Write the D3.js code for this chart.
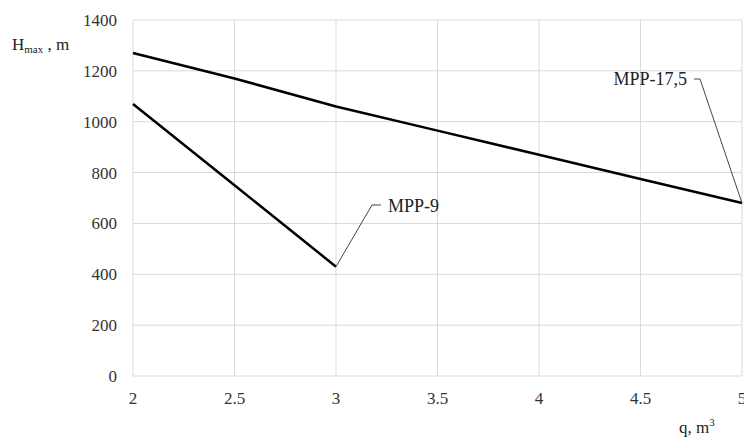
<!DOCTYPE html>
<html><head><meta charset="utf-8">
<script src="https://cdn.jsdelivr.net/npm/d3@7"></script>
<style>body{margin:0;background:#fff}svg{display:block}
text{font-family:"Liberation Serif",serif;font-size:17px}</style>
</head><body>
<svg id="c" width="744" height="439"></svg>
<script>
const xTicks = [2, 2.5, 3, 3.5, 4, 4.5, 5];
const yTicks = [0, 200, 400, 600, 800, 1000, 1200, 1400];
const q17 = [2, 2.5, 3, 3.5, 4, 4.5, 5];
const h17 = [1270, 1170, 1060, 965, 870, 775, 680];
const q9 = [2, 2.5, 3];
const h9 = [1070, 750, 430];
const seriesNames = ["MPP-17,5", "MPP-9"];

const svg = d3.select("#c");
const x = d3.scaleLinear().domain([2, 5]).range([133, 742]);
const y = d3.scaleLinear().domain([0, 1400]).range([376, 20]);

// grid
svg.append("g").selectAll("line").data(yTicks).join("line")
  .attr("x1", x(2)).attr("x2", x(5)).attr("y1", d => y(d)).attr("y2", d => y(d))
  .attr("stroke", "#d9d9d9").attr("stroke-width", 1);
svg.append("g").selectAll("line").data(xTicks).join("line")
  .attr("y1", y(0)).attr("y2", y(1400)).attr("x1", d => x(d)).attr("x2", d => x(d))
  .attr("stroke", "#d9d9d9").attr("stroke-width", 1);

// tick labels
svg.append("g").selectAll("text").data(yTicks).join("text")
  .attr("x", 117).attr("y", d => y(d) + 6).attr("text-anchor", "end")
  .attr("fill", "#333").text(d => d);
svg.append("g").selectAll("text").data(xTicks).join("text")
  .attr("x", d => x(d)).attr("y", 404).attr("text-anchor", "middle")
  .attr("fill", "#333").text(d => d);

// lines
const line = d3.line().x(d => x(d[0])).y(d => y(d[1]));
svg.append("path").datum(q17.map((v, i) => [v, h17[i]])).attr("d", line)
  .attr("fill", "none").attr("stroke", "#000").attr("stroke-width", 2.5);
svg.append("path").datum(q9.map((v, i) => [v, h9[i]])).attr("d", line)
  .attr("fill", "none").attr("stroke", "#000").attr("stroke-width", 2.5);

// labels with leaders
const p9 = [x(q9[q9.length - 1]), y(h9[h9.length - 1])];
svg.append("polyline").attr("points", `${p9[0]},${p9[1]} ${372},${205} ${381},${205}`)
  .attr("fill", "none").attr("stroke", "#444").attr("stroke-width", 1);
svg.append("text").attr("x", 388).attr("y", 212).style("font-size", "18px")
  .attr("fill", "#222").text(seriesNames[1]);

const p17 = [x(q17[q17.length - 1]), y(h17[h17.length - 1])];
svg.append("polyline").attr("points", `${694},${79} ${700},${79} ${p17[0]},${p17[1]}`)
  .attr("fill", "none").attr("stroke", "#444").attr("stroke-width", 1);
svg.append("text").attr("x", 687).attr("y", 85).attr("text-anchor", "end").style("font-size", "18px")
  .attr("fill", "#222").text(seriesNames[0]);

// axis titles
const yt = svg.append("text").attr("x", 12).attr("y", 50).attr("fill", "#222");
yt.append("tspan").text("H");
yt.append("tspan").style("font-size", "11px").attr("dy", 3).text("max");
yt.append("tspan").attr("dy", -3).text(" , m");
const xt = svg.append("text").attr("x", 679).attr("y", 433).attr("fill", "#222");
xt.append("tspan").text("q, m");
xt.append("tspan").style("font-size", "11px").attr("dy", -7).text("3");
</script>
</body></html>
